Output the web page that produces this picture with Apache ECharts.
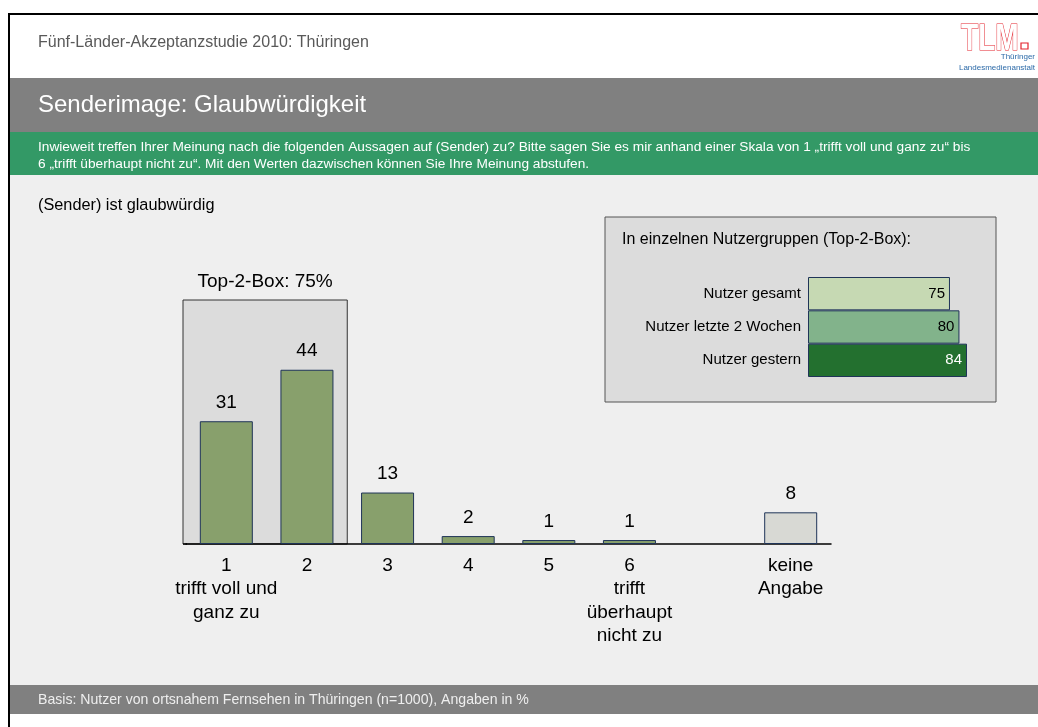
<!DOCTYPE html>
<html>
<head>
<meta charset="utf-8">
<script src="https://cdn.jsdelivr.net/npm/echarts@6/dist/echarts.min.js"></script>
<style>
html,body{margin:0;padding:0;background:#fff;}
#c{width:1038px;height:727px;}
</style>
</head>
<body>
<div id="c"></div>
<script>
// ---- data ----
var categories = ['1\ntrifft voll und\nganz zu', '2', '3', '4', '5', '6\ntrifft\nüberhaupt\nnicht zu', '', 'keine\nAngabe'];
var values = [31, 44, 13, 2, 1, 1, null, 8];
var groupNames = ['Nutzer gesamt', 'Nutzer letzte 2 Wochen', 'Nutzer gestern'];
var groupValues = [75, 80, 84];
var topBoxIndices = [0, 1];

var FONT = 'Arial, "Liberation Sans", sans-serif';
var barGreen = '#88a06c';
var barGray = '#d8d9d4';
var barBorder = '#1f3458';
var groupColors = ['#c6d9b3', '#82b38b', '#23702f'];
var groupLabelColors = ['#000', '#000', '#fff'];

var chart = echarts.init(document.getElementById('c'), null, {renderer: 'canvas'});

var mainData = values.map(function (v, i) {
  var isNA = categories[i].indexOf('keine') === 0;
  return {
    value: v,
    itemStyle: {color: isNA ? barGray : barGreen, borderColor: barBorder, borderWidth: 1}
  };
});
var groupData = groupValues.map(function (v, i) {
  return {
    value: v,
    itemStyle: {color: groupColors[i], borderColor: barBorder, borderWidth: 1},
    label: {color: groupLabelColors[i]}
  };
});

function staticGraphics() {
  return [
    // page frame
    {type: 'rect', z: -20, shape: {x: 9, y: 14, width: 1040, height: 720}, style: {fill: '#fff', stroke: '#000', lineWidth: 2}},
    {type: 'rect', z: -19, shape: {x: 10, y: 78, width: 1028, height: 54}, style: {fill: '#808080'}},
    {type: 'rect', z: -19, shape: {x: 10, y: 132, width: 1028, height: 43}, style: {fill: '#339966'}},
    {type: 'rect', z: -19, shape: {x: 10, y: 175, width: 1028, height: 510}, style: {fill: '#efefef'}},
    {type: 'rect', z: -19, shape: {x: 10, y: 685, width: 1028, height: 29}, style: {fill: '#808080'}},
    // header texts
    {type: 'text', z: 5, x: 38, y: 43, style: {text: 'Fünf-Länder-Akzeptanzstudie 2010: Thüringen', font: '16px ' + FONT, fill: '#595959', verticalAlign: 'middle'}},
    {type: 'text', z: 5, x: 38, y: 105, style: {text: 'Senderimage: Glaubwürdigkeit', font: '24px ' + FONT, fill: '#fff', verticalAlign: 'middle'}},
    {type: 'text', z: 5, x: 38, y: 147, style: {text: 'Inwieweit treffen Ihrer Meinung nach die folgenden Aussagen auf (Sender) zu? Bitte sagen Sie es mir anhand einer Skala von 1 „trifft voll und ganz zu“ bis', font: '13.7px ' + FONT, fill: '#fff', verticalAlign: 'middle'}},
    {type: 'text', z: 5, x: 38, y: 164, style: {text: '6 „trifft überhaupt nicht zu“. Mit den Werten dazwischen können Sie Ihre Meinung abstufen.', font: '13.7px ' + FONT, fill: '#fff', verticalAlign: 'middle'}},
    {type: 'text', z: 5, x: 38, y: 206, style: {text: '(Sender) ist glaubwürdig', font: '16.3px ' + FONT, fill: '#000', verticalAlign: 'middle'}},
    {type: 'text', z: 5, x: 38, y: 700, style: {text: 'Basis: Nutzer von ortsnahem Fernsehen in Thüringen (n=1000), Angaben in %', font: '14.1px ' + FONT, fill: '#eeeeee', verticalAlign: 'middle'}},
    // logo
    {type: 'text', z: 5, x: 961, y: 22, scaleX: 0.78, style: {text: 'TLM', font: 'bold 36px ' + FONT, fill: '#fff', stroke: '#e3222c', lineWidth: 1.2, verticalAlign: 'top'}},
    {type: 'rect', z: 5, shape: {x: 1021, y: 43, width: 7, height: 6}, style: {fill: '#fff', stroke: '#e3222c', lineWidth: 1.2}},
    {type: 'text', z: 5, x: 1035, y: 57, style: {text: 'Thüringer', font: '8px ' + FONT, fill: '#2c6aa8', align: 'right', verticalAlign: 'middle'}},
    {type: 'text', z: 5, x: 1035, y: 68, style: {text: 'Landesmedienanstalt', font: '8px ' + FONT, fill: '#2c6aa8', align: 'right', verticalAlign: 'middle'}},
    // inset box
    {type: 'rect', z: -5, shape: {x: 605, y: 217, width: 391, height: 185}, style: {fill: '#dcdcdc', stroke: '#555', lineWidth: 1}},
    {type: 'text', z: 5, x: 622, y: 240, style: {text: 'In einzelnen Nutzergruppen (Top-2-Box):', font: '16px ' + FONT, fill: '#000', verticalAlign: 'middle'}}
  ];
}

chart.setOption({
  animation: false,
  backgroundColor: 'transparent',
  textStyle: {fontFamily: FONT},
  grid: [
    {left: 186, top: 346, width: 645, height: 198},
    {left: 808, top: 277, width: 189.3, height: 100}
  ],
  xAxis: [
    {
      type: 'category', gridIndex: 0, data: categories,
      axisLine: {lineStyle: {color: '#000', width: 1.5}},
      axisTick: {show: false},
      axisLabel: {interval: 0, fontSize: 19, color: '#000', lineHeight: 23.5, margin: 10, fontFamily: FONT}
    },
    {type: 'value', gridIndex: 1, min: 0, max: 100, show: false}
  ],
  yAxis: [
    {type: 'value', gridIndex: 0, min: 0, max: 50, show: false},
    {
      type: 'category', gridIndex: 1, data: groupNames, inverse: true,
      axisLine: {show: false}, axisTick: {show: false},
      axisLabel: {fontSize: 15, color: '#000', margin: 7, fontFamily: FONT}
    }
  ],
  series: [
    {
      type: 'bar', xAxisIndex: 0, yAxisIndex: 0, data: mainData, barWidth: 53,
      label: {show: true, position: 'top', distance: 9, fontSize: 19, color: '#000', fontFamily: FONT}
    },
    {
      type: 'bar', xAxisIndex: 1, yAxisIndex: 1, data: groupData, barWidth: '100%',
      label: {show: true, position: 'insideRight', distance: 5, fontSize: 15, fontFamily: FONT}
    }
  ],
  graphic: staticGraphics()
});

// Top-2-Box frame derived from the axis scale
var band = 645 / categories.length;
var c0 = chart.convertToPixel({xAxisIndex: 0, yAxisIndex: 0}, [topBoxIndices[0], 0]);
var c1 = chart.convertToPixel({xAxisIndex: 0, yAxisIndex: 0}, [topBoxIndices[topBoxIndices.length - 1], 0]);
var boxLeft = c0[0] - band / 2 - 3, boxRight = c1[0] + band / 2, baseY = c0[1];
var topSum = topBoxIndices.reduce(function (s, i) { return s + values[i]; }, 0);
var g = staticGraphics();
g.push({type: 'rect', z: -5, shape: {x: boxLeft, y: 300, width: boxRight - boxLeft, height: baseY - 300}, style: {fill: '#dcdcdc', stroke: '#333', lineWidth: 1}});
g.push({type: 'line', z: 1, shape: {x1: boxLeft, y1: baseY, x2: boxLeft + 4, y2: baseY}, style: {stroke: '#000', lineWidth: 1.5}});
g.push({type: 'text', z: 5, x: (boxLeft + boxRight) / 2, y: 282, style: {text: 'Top-2-Box: ' + topSum + '%', font: '19px ' + FONT, fill: '#000', align: 'center', verticalAlign: 'middle'}});
chart.setOption({graphic: g}, {replaceMerge: ['graphic']});
</script>
</body>
</html>
